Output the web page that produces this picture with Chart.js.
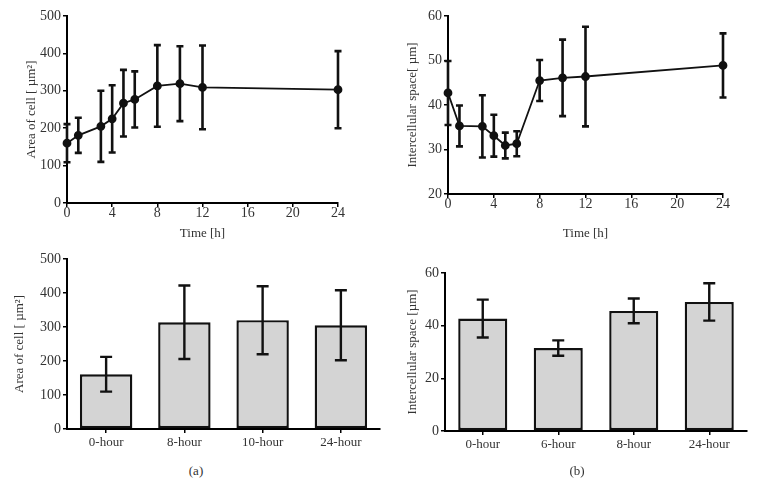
<!DOCTYPE html>
<html>
<head>
<meta charset="utf-8">
<script src="https://cdn.jsdelivr.net/npm/chart.js@4.4.0/dist/chart.umd.min.js"></script>
<style>
    body { margin: 0; background: #fff; width: 758px; height: 497px; position: relative; overflow: hidden; font-family: "Liberation Serif", serif; }
    .box { position: absolute; }
    .cap { position: absolute; font-size: 13px; color: #333; transform: translate(-50%, -50%); }
</style>
</head>
<body>
<div class="box" style="left:0;top:0;width:350px;height:245px"><canvas id="areaLine"></canvas></div>
<div class="box" style="left:380px;top:0;width:378px;height:245px"><canvas id="spaceLine"></canvas></div>
<div class="box" style="left:0;top:245px;width:384px;height:215px"><canvas id="areaBar"></canvas></div>
<div class="box" style="left:380px;top:245px;width:378px;height:215px"><canvas id="spaceBar"></canvas></div>
<div class="cap" style="left:196px;top:471px">(a)</div>
<div class="cap" style="left:577px;top:471px">(b)</div>

<script>
// time course (hours)
const hours = [0, 1, 3, 4, 5, 6, 8, 10, 12, 24];
const areaMean = [160, 181, 205, 225, 267, 277, 313, 319, 309, 303];
const areaErr = [51, 47, 95, 90, 89, 75, 109, 100, 112, 103];
const spaceMean = [42.7, 35.3, 35.2, 33.1, 30.9, 31.3, 45.5, 46.1, 46.4, 48.9];
const spaceErr = [7.2, 4.6, 7.0, 4.7, 2.9, 2.8, 4.6, 8.6, 11.2, 7.2];

// selected time points
const areaBarLabels = ['0-hour', '8-hour', '10-hour', '24-hour'];
const areaBarMean = [161, 314, 320, 305];
const areaBarErr = [51, 108, 100, 103];
const spaceBarLabels = ['0-hour', '6-hour', '8-hour', '24-hour'];
const spaceBarMean = [42.7, 31.5, 45.6, 49.0];
const spaceBarErr = [7.2, 2.9, 4.7, 7.1];

const textColor = '#333';
const serif = '"Liberation Serif", "Times New Roman", serif';

// draws +/- error whiskers for dataset 0
const errorBars = {
    id: 'errorBars',
    afterDatasetsDraw(chart, args, opts) {
        const ctx = chart.ctx;
        const yScale = chart.scales.y;
        const meta = chart.getDatasetMeta(0);
        const data = chart.data.datasets[0].data;
        ctx.save();
        ctx.strokeStyle = '#111';
        ctx.lineWidth = opts.width;
        meta.data.forEach((el, i) => {
            const v = typeof data[i] === 'object' ? data[i].y : data[i];
            const top = yScale.getPixelForValue(v + opts.values[i]);
            const bot = yScale.getPixelForValue(v - opts.values[i]);
            ctx.beginPath();
            ctx.moveTo(el.x, top); ctx.lineTo(el.x, bot);
            ctx.moveTo(el.x - opts.cap, top); ctx.lineTo(el.x + opts.cap, top);
            ctx.moveTo(el.x - opts.cap, bot); ctx.lineTo(el.x + opts.cap, bot);
            ctx.stroke();
        });
        ctx.restore();
    }
};

function axisBase() {
    return {
        border: { display: true, color: '#000', width: 2 },
        grid: { display: true, drawOnChartArea: false, drawTicks: true, tickLength: 4, tickColor: '#000', lineWidth: 1.5 },
        ticks: { color: textColor, font: { family: serif, size: 14 }, padding: 2 }
    };
}

function yAxis(min, max, step, title, width) {
    const a = axisBase();
    a.min = min; a.max = max;
    a.ticks.stepSize = step;
    a.title = { display: true, text: title, color: textColor, font: { family: serif, size: 13 }, padding: { top: 4, bottom: 4 } };
    a.afterFit = s => { s.width = width; };
    return a;
}

function timeAxis(height) {
    const a = axisBase();
    a.type = 'linear';
    a.min = 0; a.max = 24;
    a.ticks.stepSize = 4;
    a.ticks.padding = -2;
    a.title = { display: true, text: 'Time [h]', color: textColor, font: { family: serif, size: 13 }, padding: { top: 0, bottom: 4 } };
    a.afterFit = s => { s.height = height; };
    return a;
}

function catAxis(height) {
    const a = axisBase();
    a.grid.offset = false;
    a.ticks.font.size = 13;
    a.afterFit = s => { s.height = height; };
    return a;
}

function baseOptions(padding) {
    return {
        responsive: true,
        maintainAspectRatio: false,
        animation: false,
        layout: { padding: padding },
        plugins: { legend: { display: false }, tooltip: { enabled: false } }
    };
}

function lineChart(id, means, errs, yMin, yMax, yStep, yTitle, yWidth, xHeight, padding) {
    const opts = baseOptions(padding);
    opts.plugins.errorBars = { values: errs, width: 2.6, cap: 3.5 };
    opts.scales = { x: timeAxis(xHeight), y: yAxis(yMin, yMax, yStep, yTitle, yWidth) };
    new Chart(document.getElementById(id), {
        type: 'line',
        data: {
            datasets: [{
                data: hours.map((h, i) => ({ x: h, y: means[i] })),
                borderColor: '#111',
                borderWidth: 1.8,
                pointBackgroundColor: '#111',
                pointBorderColor: '#111',
                pointRadius: 3.5,
                tension: 0,
                fill: false,
                clip: false
            }]
        },
        options: opts,
        plugins: [errorBars]
    });
}

function barChart(id, labels, means, errs, yMax, yStep, yTitle, yWidth, xHeight, padding, pct) {
    const opts = baseOptions(padding);
    opts.plugins.errorBars = { values: errs, width: 2.4, cap: 6 };
    opts.scales = { x: catAxis(xHeight), y: yAxis(0, yMax, yStep, yTitle, yWidth) };
    new Chart(document.getElementById(id), {
        type: 'bar',
        data: {
            labels: labels,
            datasets: [{
                data: means,
                backgroundColor: '#d4d4d4',
                borderColor: '#111',
                borderWidth: 2.4,
                borderSkipped: false,
                categoryPercentage: 1,
                barPercentage: pct
            }]
        },
        options: opts,
        plugins: [errorBars]
    });
}

lineChart('areaLine', areaMean, areaErr, 0, 500, 100, 'Area of cell [ µm²]', 47, 42,
    { left: 20, top: 16, right: 12, bottom: 0 });
lineChart('spaceLine', spaceMean, spaceErr, 20, 60, 10, 'Intercellular space[ µm]', 47, 51,
    { left: 21, top: 16, right: 35, bottom: 0 });
barChart('areaBar', areaBarLabels, areaBarMean, areaBarErr, 500, 100, 'Area of cell [ µm²]', 59, 31,
    { left: 8, top: 14, right: 4, bottom: 0 }, 0.67);
barChart('spaceBar', spaceBarLabels, spaceBarMean, spaceBarErr, 60, 20, 'Intercellular space [µm]', 44, 29,
    { left: 21, top: 28, right: 11, bottom: 0 }, 0.65);
</script>
</body>
</html>
